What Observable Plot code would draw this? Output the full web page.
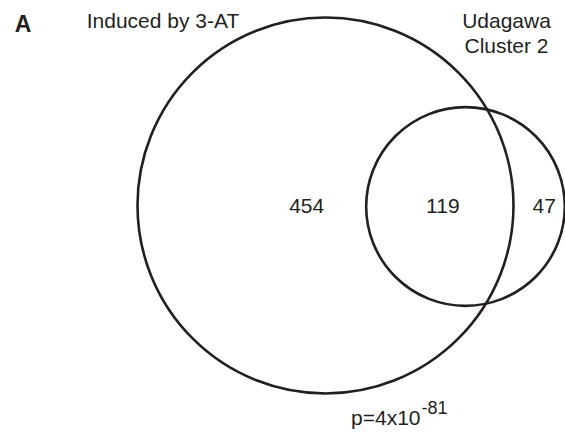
<!DOCTYPE html>
<html>
<head>
<meta charset="utf-8">
<script src="https://cdn.jsdelivr.net/npm/d3@7"></script>
<script src="https://cdn.jsdelivr.net/npm/@observablehq/plot@0.6"></script>
<style>
  html, body { margin: 0; padding: 0; background: #fff; }
  #chart svg { display: block; }
</style>
</head>
<body>
<div id="chart"></div>
<script>
// ---- data ----
const panelLabel = "A";
const setNames = ["Induced by 3-AT", "Udagawa\nCluster 2"];
const onlyCounts = [454, 47];      // genes only in set A, only in set B
const overlapCount = 119;          // genes in both
const pMantissa = "p=4x10";
const pExponent = "-81";

// ---- layout ----
const W = 565, H = 439;
const font = "Liberation Sans, Arial, Helvetica, sans-serif";
const ink = "#231f20";

const setSizes = [onlyCounts[0] + overlapCount, onlyCounts[1] + overlapCount];
const bigCenter = {x: 325, y: 205};
const bigRadius = 188;
const centerGap = 140;
const rExponent = 0.515;

const circles = [
  {name: setNames[0], size: setSizes[0], x: bigCenter.x, y: bigCenter.y},
  {name: setNames[1], size: setSizes[1], x: bigCenter.x + centerGap, y: bigCenter.y + 1}
];
const rScale = {type: "pow", exponent: rExponent, domain: [0, setSizes[0]], range: [0, bigRadius]};
const rOf = v => bigRadius * Math.pow(v / setSizes[0], rExponent);
const r2 = rOf(setSizes[1]);
const smallLeft = circles[1].x - r2, smallRight = circles[1].x + r2;
const bigLeft = bigCenter.x - bigRadius, bigRight = bigCenter.x + bigRadius;
const baseY = bigCenter.y + 7.5;

const regionLabels = [
  {label: String(onlyCounts[0]), x: bigCenter.x - 0.1 * bigRadius, y: baseY},
  {label: String(overlapCount), x: (smallLeft + bigRight) / 2 + 3, y: baseY},
  {label: String(onlyCounts[1]), x: (bigRight + smallRight) / 2 + 5, y: baseY}
];

const titleY = bigCenter.y - bigRadius;   // top of the big circle
const titleLabels = [
  {label: setNames[0], x: bigLeft + 25.5, y: titleY + 10},
  {label: setNames[1], x: circles[1].x + 41, y: titleY + 35.5}
];

const pX = bigCenter.x + 95;
const pY = bigCenter.y + bigRadius;

const chart = Plot.plot({
  width: W,
  height: H,
  margin: 0,
  style: {fontFamily: font, background: "#fff", overflow: "visible"},
  x: {domain: [0, W], range: [0, W], axis: null},
  y: {domain: [0, H], range: [0, H], axis: null},
  r: rScale,
  marks: [
    Plot.dot(circles, {x: "x", y: "y", r: "size", stroke: ink, strokeWidth: 2.6, fill: "none"}),
    Plot.text(regionLabels, {x: "x", y: "y", text: "label", fontSize: 21, fill: ink, textAnchor: "middle", lineAnchor: "bottom"}),
    Plot.text([panelLabel], {x: () => bigLeft - 114.5, y: () => titleY + 14.5, text: d => d, fontSize: 23, fontWeight: "bold", fill: ink, textAnchor: "middle", lineAnchor: "bottom"}),
    Plot.text(titleLabels, {x: "x", y: "y", text: "label", fontSize: 21, lineHeight: 1.17, fill: ink, textAnchor: "middle", lineAnchor: "bottom"}),
    Plot.text([pMantissa], {x: () => pX, y: () => pY + 31, text: d => d, fontSize: 21, textAnchor: "end", lineAnchor: "bottom", fill: ink}),
    Plot.text([pExponent], {x: () => pX + 1, y: () => pY + 20, text: d => d, fontSize: 18, textAnchor: "start", lineAnchor: "bottom", fill: ink})
  ]
});
document.getElementById("chart").append(chart);
</script>
</body>
</html>
